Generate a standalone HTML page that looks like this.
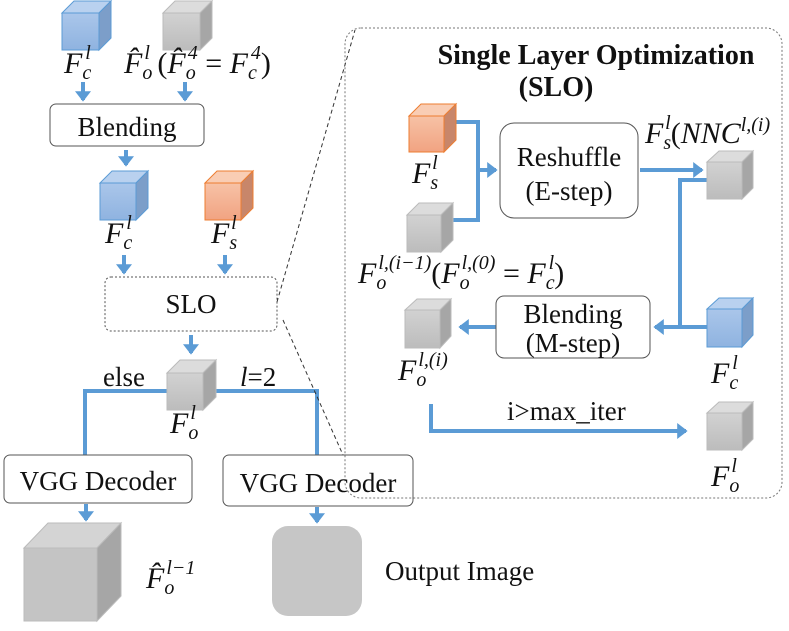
<!DOCTYPE html>
<html><head><meta charset="utf-8"><style>
body{margin:0;background:#fff}
svg{display:block}
text{font-family:"Liberation Serif",serif;fill:#111}
.it{font-style:italic}
</style></head><body>
<svg width="789" height="631" viewBox="0 0 789 631" xmlns="http://www.w3.org/2000/svg">
<defs>
<marker id="a" markerWidth="4" markerHeight="4" refX="2.2" refY="2" orient="auto" markerUnits="strokeWidth"><path d="M0,0 L2.6,2 L0,4 z" fill="#5b9bd5"/></marker>
<linearGradient id="gb" x1="0" y1="0" x2="0" y2="1"><stop offset="0" stop-color="#aac6ea"/><stop offset="1" stop-color="#8fb3e0"/></linearGradient>
<linearGradient id="gg" x1="0" y1="0" x2="0" y2="1"><stop offset="0" stop-color="#d2d2d2"/><stop offset="1" stop-color="#bcbcbc"/></linearGradient>
<linearGradient id="go" x1="0" y1="0" x2="0" y2="1"><stop offset="0" stop-color="#f7c2a6"/><stop offset="1" stop-color="#f1a382"/></linearGradient>
</defs>
<g fill="none" stroke="#5b9bd5" stroke-width="4">
<line x1="83" y1="82" x2="83" y2="100" marker-end="url(#a)"/>
<line x1="185" y1="82" x2="185" y2="100" marker-end="url(#a)"/>
<line x1="126" y1="150" x2="126" y2="165" marker-end="url(#a)"/>
<line x1="124" y1="255" x2="124" y2="273" marker-end="url(#a)"/>
<line x1="225" y1="255" x2="225" y2="273" marker-end="url(#a)"/>
<line x1="191" y1="335" x2="191" y2="353" marker-end="url(#a)"/>
<polyline points="167,391 85,391 85,455"/>
<polyline points="216,391 317,391 317,455"/>
<line x1="86" y1="504" x2="86" y2="520" marker-end="url(#a)"/>
<line x1="317" y1="507" x2="317" y2="522" marker-end="url(#a)"/>
<polyline points="456,122 478,122 478,220 442,220"/>
<line x1="478" y1="170" x2="496" y2="170" marker-end="url(#a)"/>
<line x1="640" y1="170" x2="702" y2="170" marker-end="url(#a)"/>
<polyline points="707,180 680,180 680,327"/>
<line x1="707" y1="327" x2="655" y2="327" marker-end="url(#a)"/>
<line x1="496" y1="327" x2="460" y2="327" marker-end="url(#a)"/>
<polyline points="431,404 431,431 686,431" marker-end="url(#a)"/>
</g>
<g fill="#fff" stroke="#555" stroke-width="1">
<rect x="50" y="104" width="154" height="42" rx="6"/>
<rect x="105" y="277" width="172" height="54" rx="6" stroke-dasharray="2,2"/>
<rect x="4" y="455" width="188" height="48" rx="6"/>
<rect x="223" y="455" width="190" height="51" rx="6"/>
<rect x="500" y="123" width="138" height="95" rx="14"/>
<rect x="496" y="296" width="154" height="62" rx="8"/>
</g>
<rect x="345" y="28" width="437" height="470" rx="16" fill="none" stroke="#777" stroke-width="1" stroke-dasharray="2,2"/>
<line x1="277" y1="302" x2="355" y2="30" stroke="#333" stroke-dasharray="4,3"/>
<line x1="283" y1="320" x2="343" y2="455" stroke="#333" stroke-dasharray="4,3"/>
<g>
<g stroke="#5b9bd5"><path d="M62,13 L74,1 L111,1 L99,13z" fill="#b9d1ef"/><path d="M99,13 L111,1 L111,38 L99,50z" fill="#7c9ec9"/><rect x="62" y="13" width="37" height="37" fill="url(#gb)"/></g>
<g stroke="#bbb"><path d="M163,13 L175,1 L212,1 L200,13z" fill="#dcdcdc"/><path d="M200,13 L212,1 L212,38 L200,50z" fill="#a6a6a6"/><rect x="163" y="13" width="37" height="37" fill="url(#gg)"/></g>
<g stroke="#5b9bd5"><path d="M100,183 L112,171 L148,171 L136,183z" fill="#b9d1ef"/><path d="M136,183 L148,171 L148,208 L136,220z" fill="#7c9ec9"/><rect x="100" y="183" width="36" height="37" fill="url(#gb)"/></g>
<g stroke="#ed7d31"><path d="M205,183 L217,171 L253,171 L241,183z" fill="#f9cdb4"/><path d="M241,183 L253,171 L253,208 L241,220z" fill="#c8866a"/><rect x="205" y="183" width="36" height="37" fill="url(#go)"/></g>
<g stroke="#bbb"><path d="M167,373 L180,360 L216,360 L203,373z" fill="#dcdcdc"/><path d="M203,373 L216,360 L216,397 L203,410z" fill="#a6a6a6"/><rect x="167" y="373" width="36" height="37" fill="url(#gg)"/></g>
<g stroke="#bbb"><path d="M24,548 L48,523 L121,523 L97,548z" fill="#d4d4d4"/><path d="M97,548 L121,523 L121,596 L97,621z" fill="#a6a6a6"/><rect x="24" y="548" width="73" height="73" fill="#c4c4c4"/></g>
<rect x="272" y="526" width="90" height="90" rx="16" fill="#c6c6c6"/>
<g stroke="#ed7d31"><path d="M409,116 L421,104 L456,104 L444,116z" fill="#f9cdb4"/><path d="M444,116 L456,104 L456,140 L444,152z" fill="#c8866a"/><rect x="409" y="116" width="35" height="36" fill="url(#go)"/></g>
<g stroke="#bbb"><path d="M407,215 L419,203 L453,203 L441,215z" fill="#dcdcdc"/><path d="M441,215 L453,203 L453,240 L441,252z" fill="#a6a6a6"/><rect x="407" y="215" width="34" height="37" fill="url(#gg)"/></g>
<g stroke="#bbb"><path d="M707,162 L719,151 L753,151 L742,162z" fill="#dcdcdc"/><path d="M742,162 L753,151 L753,188 L742,199z" fill="#a6a6a6"/><rect x="707" y="162" width="35" height="37" fill="url(#gg)"/></g>
<g stroke="#bbb"><path d="M405,310 L417,299 L451,299 L440,310z" fill="#dcdcdc"/><path d="M440,310 L451,299 L451,336 L440,348z" fill="#a6a6a6"/><rect x="405" y="310" width="35" height="38" fill="url(#gg)"/></g>
<g stroke="#5b9bd5"><path d="M707,309 L719,298 L753,298 L742,309z" fill="#b9d1ef"/><path d="M742,309 L753,298 L753,335 L742,347z" fill="#7c9ec9"/><rect x="707" y="309" width="35" height="38" fill="url(#gb)"/></g>
<g stroke="#bbb"><path d="M707,413 L719,402 L753,402 L742,413z" fill="#dcdcdc"/><path d="M742,413 L753,402 L753,439 L742,450z" fill="#a6a6a6"/><rect x="707" y="413" width="35" height="37" fill="url(#gg)"/></g>
</g>
<g font-size="27">
<text x="127" y="136" text-anchor="middle">Blending</text>
<text x="191" y="313" text-anchor="middle">SLO</text>
<text x="98" y="490" text-anchor="middle">VGG Decoder</text>
<text x="318" y="492" text-anchor="middle">VGG Decoder</text>
<text x="385" y="580">Output Image</text>
<text x="103" y="386">else</text>
<text x="240" y="386"><tspan class="it">l</tspan>=2</text>
<text x="569" y="166" text-anchor="middle">Reshuffle</text>
<text x="569" y="200" text-anchor="middle">(E-step)</text>
<text x="573" y="323" text-anchor="middle">Blending</text>
<text x="573" y="352" text-anchor="middle">(M-step)</text>
<text x="507" y="420">i&gt;max_iter</text>
<text x="596" y="64" text-anchor="middle" font-weight="bold" font-size="28">Single Layer Optimization</text>
<text x="556" y="96" text-anchor="middle" font-weight="bold" font-size="28">(SLO)</text>
</g>
<g font-size="30">
<text x="64" y="73" class="it">F<tspan font-size="20" dy="6">c</tspan><tspan font-size="20" dy="-20" dx="-6">l</tspan></text>
<text x="124" y="73" class="it">F̂<tspan font-size="20" dy="6">o</tspan><tspan font-size="20" dy="-20" dx="-8">l</tspan><tspan dy="14" font-style="normal"> (</tspan>F̂<tspan font-size="20" dy="6">o</tspan><tspan font-size="20" dy="-20" dx="-8">4</tspan><tspan dy="14" font-style="normal"> = </tspan>F<tspan font-size="20" dy="6">c</tspan><tspan font-size="20" dy="-20" dx="-6">4</tspan><tspan dy="14" font-style="normal">)</tspan></text>
<text x="105" y="243" class="it">F<tspan font-size="20" dy="6">c</tspan><tspan font-size="20" dy="-20" dx="-6">l</tspan></text>
<text x="211" y="243" class="it">F<tspan font-size="20" dy="6">s</tspan><tspan font-size="20" dy="-20" dx="-6">l</tspan></text>
<text x="170" y="433" class="it">F<tspan font-size="20" dy="6">o</tspan><tspan font-size="20" dy="-20" dx="-8">l</tspan></text>
<text x="146" y="588" class="it">F̂<tspan font-size="20" dy="6">o</tspan><tspan font-size="20" dy="-20" dx="-8">l−1</tspan></text>
<text x="412" y="183" class="it">F<tspan font-size="20" dy="6">s</tspan><tspan font-size="20" dy="-20" dx="-6">l</tspan></text>
<text x="645" y="143" class="it">F<tspan font-size="20" dy="6">s</tspan><tspan font-size="20" dy="-20" dx="-6">l</tspan><tspan dy="14" font-style="normal">(</tspan>NNC<tspan font-size="20" dy="-12">l,(i)</tspan></text>
<text x="358" y="283" class="it">F<tspan font-size="20" dy="6">o</tspan><tspan font-size="20" dy="-20" dx="-8">l,(i−1)</tspan><tspan dy="14" font-style="normal">(</tspan>F<tspan font-size="20" dy="6">o</tspan><tspan font-size="20" dy="-20" dx="-8">l,(0)</tspan><tspan dy="14" font-style="normal"> = </tspan>F<tspan font-size="20" dy="6">c</tspan><tspan font-size="20" dy="-20" dx="-6">l</tspan><tspan dy="14" font-style="normal">)</tspan></text>
<text x="398" y="380" class="it">F<tspan font-size="20" dy="6">o</tspan><tspan font-size="20" dy="-20" dx="-8">l,(i)</tspan></text>
<text x="711" y="383" class="it">F<tspan font-size="20" dy="6">c</tspan><tspan font-size="20" dy="-20" dx="-6">l</tspan></text>
<text x="711" y="486" class="it">F<tspan font-size="20" dy="6">o</tspan><tspan font-size="20" dy="-20" dx="-8">l</tspan></text>
</g>
</svg>
</body></html>
